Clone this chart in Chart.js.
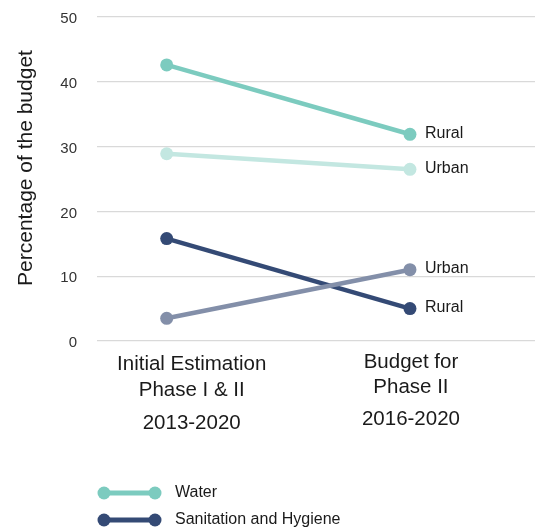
<!DOCTYPE html>
<html>
<head>
<meta charset="utf-8">
<script src="https://cdn.jsdelivr.net/npm/chart.js@4.4.1/dist/chart.umd.min.js"></script>
<style>
  html, body { margin: 0; padding: 0; background: #fff; }
  #wrap { width: 535px; height: 527px; }
</style>
</head>
<body>
<div id="wrap"><canvas id="chart" width="535" height="527"></canvas></div>
<script>
    // Data
    const categories = [
      ['Initial Estimation', 'Phase I & II', '2013-2020'],
      ['Budget for', 'Phase II', '2016-2020']
    ];
    const waterRural = [42.6, 31.9];
    const waterUrban = [28.9, 26.5];
    const sanitationRural = [15.8, 5.0];
    const sanitationUrban = [3.5, 11.0];
    const endLabels = ['Urban', 'Rural', 'Urban', 'Rural'];
    const legendNames = ['Water', 'Sanitation and Hygiene'];
    const yTicks = [0, 10, 20, 30, 40, 50];

    const FONT = '"Liberation Sans", Arial, sans-serif';
    const TEXT = '#1a1a1a';
    const colors = {
      waterRural: '#7ccbbf',
      waterUrban: '#c3e7e1',
      sanRural: '#344a75',
      sanUrban: '#838fa9'
    };

    const toPoints = arr => arr.map((v, i) => ({ x: i, y: v }));
    const makeSet = (data, color) => ({
      data: toPoints(data),
      borderColor: color,
      backgroundColor: color,
      borderWidth: 4.5,
      pointRadius: 6.5,
      pointHoverRadius: 6.5,
      pointBorderWidth: 0,
      tension: 0
    });

    // Extra text: axis title, category labels, end labels, legend
    const textPlugin = {
      id: 'textPlugin',
      afterDraw(chart) {
        const ctx = chart.ctx;
        const x = chart.scales.x, y = chart.scales.y;
        ctx.save();
        ctx.fillStyle = TEXT;

        // y axis title
        ctx.save();
        ctx.translate(26, 168);
        ctx.rotate(-Math.PI / 2);
        ctx.font = `21px ${FONT}`;
        ctx.textAlign = 'center';
        ctx.textBaseline = 'middle';
        ctx.fillText('Percentage of the budget', 0, 0);
        ctx.restore();

        // category labels
        ctx.font = `20.5px ${FONT}`;
        ctx.textAlign = 'center';
        ctx.textBaseline = 'middle';
        const dx = [25, 1];
        const rows = [[364, 390, 423], [362, 387, 419]];
        categories.forEach((lines, i) => {
          const px = x.getPixelForValue(i) + dx[i];
          lines.forEach((line, j) => ctx.fillText(line, px, rows[i][j]));
        });

        // end labels on last point
        ctx.font = `16px ${FONT}`;
        ctx.textAlign = 'left';
        chart.data.datasets.forEach((ds, i) => {
          const last = ds.data[ds.data.length - 1];
          ctx.fillText(endLabels[i], x.getPixelForValue(last.x) + 15, y.getPixelForValue(last.y) - 1);
        });

        // legend
        const legendColors = [colors.waterRural, colors.sanRural];
        const legendY = [493, 520];
        legendNames.forEach((name, i) => {
          ctx.strokeStyle = legendColors[i];
          ctx.fillStyle = legendColors[i];
          ctx.lineWidth = 5;
          ctx.beginPath();
          ctx.moveTo(104, legendY[i]);
          ctx.lineTo(155, legendY[i]);
          ctx.stroke();
          [104, 155].forEach(cx => {
            ctx.beginPath();
            ctx.arc(cx, legendY[i], 6.5, 0, Math.PI * 2);
            ctx.fill();
          });
          ctx.fillStyle = TEXT;
          ctx.font = `16px ${FONT}`;
          ctx.textBaseline = 'middle';
          ctx.fillText(name, 175, legendY[i]);
        });
        ctx.restore();
      }
    };

    function buildChart() {
      new Chart(document.getElementById('chart'), {
        type: 'line',
        data: {
          datasets: [
            makeSet(waterUrban, colors.waterUrban),
            makeSet(waterRural, colors.waterRural),
            makeSet(sanitationUrban, colors.sanUrban),
            makeSet(sanitationRural, colors.sanRural)
          ]
        },
        options: {
          responsive: false,
          animation: false,
          layout: { autoPadding: false, padding: { top: 17, right: 0, left: 0, bottom: 0 } },
          plugins: {
            legend: { display: false },
            tooltip: { enabled: false }
          },
          scales: {
            x: {
              type: 'linear',
              min: -0.2865,
              max: 1.514,
              grid: { display: false },
              border: { display: false },
              ticks: { display: false },
              afterFit: s => { s.height = 527 - 341; }
            },
            y: {
              min: 0,
              max: 50,
              afterBuildTicks: s => { s.ticks = yTicks.map(v => ({ value: v })); },
              afterFit: s => {
                s.width = 97;
                s.paddingTop = 0;
                s.paddingBottom = 0;
              },
              grid: { color: '#d9d9d9', lineWidth: 1.3, drawTicks: false },
              border: { display: false },
              ticks: {
                padding: 20,
                labelOffset: 2,
                color: '#333',
                font: { family: FONT, size: 15 }
              }
            }
          }
        },
        plugins: [textPlugin]
      });
    }

    Promise.all([
      document.fonts.load('16px "Liberation Sans"'),
      document.fonts.load('21px "Liberation Sans"')
    ]).then(buildChart, buildChart);
</script>
</body>
</html>
